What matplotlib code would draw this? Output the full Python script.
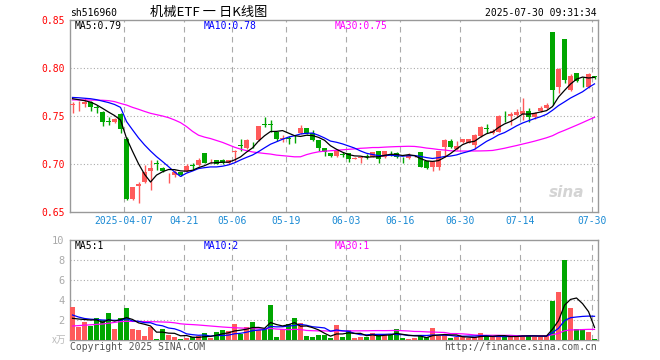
import matplotlib
matplotlib.use("Agg")
import matplotlib.pyplot as plt

# daily candles, 88 trading days (2025-03-24 .. 2025-07-30)
opens = [0.7610, 0.7620, 0.7624, 0.7641, 0.7590, 0.7545, 0.7445, 0.7441, 0.7520, 0.7258,
         0.6638, 0.6769, 0.6810, 0.6924, 0.7007, 0.6955, 0.6903, 0.6890, 0.6914, 0.6924,
         0.6986, 0.6986, 0.7118, 0.7028, 0.7042, 0.7042, 0.7007, 0.7125, 0.7195, 0.7163,
         0.7229, 0.7250, 0.7417, 0.7417, 0.7337, 0.7264, 0.7270, 0.7281, 0.7319, 0.7370,
         0.7326, 0.7250, 0.7163, 0.7118, 0.7087, 0.7100, 0.7111, 0.7056, 0.7066, 0.7079,
         0.7076, 0.7135, 0.7069, 0.7125, 0.7114, 0.7062, 0.7059, 0.7080, 0.7122, 0.7031,
         0.6972, 0.6972, 0.7174, 0.7243, 0.7160, 0.7226, 0.7222, 0.7198, 0.7292, 0.7372,
         0.7326, 0.7337, 0.7490, 0.7500, 0.7510, 0.7521, 0.7556, 0.7486, 0.7552, 0.7580,
         0.8375, 0.7806, 0.8302, 0.7771, 0.7948, 0.7886, 0.7806, 0.7913]
highs = [0.7650, 0.7660, 0.7690, 0.7659, 0.7610, 0.7555, 0.7486, 0.7483, 0.7528, 0.7286,
         0.6762, 0.6810, 0.6993, 0.7045, 0.7045, 0.6969, 0.6907, 0.6934, 0.6917, 0.7003,
         0.7010, 0.7062, 0.7118, 0.7048, 0.7045, 0.7056, 0.7045, 0.7146, 0.7257, 0.7257,
         0.7233, 0.7396, 0.7493, 0.7458, 0.7337, 0.7302, 0.7292, 0.7302, 0.7406, 0.7370,
         0.7354, 0.7250, 0.7163, 0.7118, 0.7146, 0.7128, 0.7118, 0.7069, 0.7076, 0.7100,
         0.7128, 0.7139, 0.7139, 0.7135, 0.7128, 0.7069, 0.7111, 0.7094, 0.7128, 0.7035,
         0.7035, 0.7135, 0.7257, 0.7257, 0.7243, 0.7264, 0.7264, 0.7309, 0.7399, 0.7413,
         0.7360, 0.7507, 0.7556, 0.7545, 0.7570, 0.7690, 0.7580, 0.7545, 0.7600, 0.7639,
         0.8375, 0.7997, 0.8302, 0.7937, 0.7948, 0.7903, 0.7948, 0.7920]
lows = [0.7530, 0.7555, 0.7597, 0.7555, 0.7528, 0.7397, 0.7403, 0.7431, 0.7321, 0.6630,
        0.6630, 0.6596, 0.6803, 0.6727, 0.6942, 0.6917, 0.6800, 0.6869, 0.6872, 0.6917,
        0.6948, 0.6980, 0.7007, 0.7007, 0.6997, 0.7000, 0.7000, 0.7024, 0.7139, 0.7153,
        0.7163, 0.7243, 0.7389, 0.7337, 0.7243, 0.7233, 0.7208, 0.7222, 0.7312, 0.7312,
        0.7243, 0.7139, 0.7083, 0.7076, 0.7076, 0.7069, 0.7024, 0.7049, 0.7014, 0.7055,
        0.7070, 0.7007, 0.7059, 0.7083, 0.7059, 0.7007, 0.7049, 0.7076, 0.6969, 0.6948,
        0.6930, 0.6938, 0.7070, 0.7167, 0.7146, 0.7222, 0.7215, 0.7156, 0.7280, 0.7320,
        0.7310, 0.7330, 0.7440, 0.7406, 0.7490, 0.7458, 0.7440, 0.7470, 0.7540, 0.7570,
        0.7615, 0.7743, 0.7847, 0.7760, 0.7850, 0.7806, 0.7795, 0.7890]
closes = [0.7624, 0.7630, 0.7648, 0.7597, 0.7583, 0.7441, 0.7438, 0.7466, 0.7362, 0.6638,
          0.6758, 0.6789, 0.6920, 0.6955, 0.7000, 0.6931, 0.6907, 0.6914, 0.6890, 0.6983,
          0.6980, 0.7045, 0.7014, 0.7031, 0.7000, 0.7007, 0.7042, 0.7132, 0.7188, 0.7250,
          0.7226, 0.7396, 0.7410, 0.7410, 0.7257, 0.7267, 0.7264, 0.7278, 0.7370, 0.7319,
          0.7250, 0.7170, 0.7128, 0.7083, 0.7135, 0.7097, 0.7049, 0.7059, 0.7069, 0.7076,
          0.7122, 0.7049, 0.7135, 0.7122, 0.7076, 0.7059, 0.7094, 0.7083, 0.6972, 0.6955,
          0.7031, 0.7135, 0.7250, 0.7174, 0.7191, 0.7257, 0.7260, 0.7302, 0.7389, 0.7368,
          0.7344, 0.7500, 0.7486, 0.7517, 0.7545, 0.7556, 0.7493, 0.7528, 0.7587, 0.7615,
          0.7771, 0.7986, 0.7875, 0.7917, 0.7868, 0.7882, 0.7937, 0.7910]
# volume in 万
volumes = [3.33, 1.33, 1.80, 1.43, 2.20, 2.03, 2.70, 1.10, 2.17, 3.20,
           1.10, 1.00, 0.40, 1.33, 0.10, 1.10, 0.50, 0.30, 0.10, 0.23,
           0.27, 0.40, 0.67, 0.23, 0.80, 1.00, 0.90, 1.60, 0.60, 1.30,
           1.80, 1.00, 1.13, 3.50, 0.30, 1.10, 1.60, 2.20, 1.70, 0.40,
           0.30, 0.47, 0.50, 0.25, 1.50, 0.30, 1.03, 0.20, 0.30, 0.33,
           0.70, 0.53, 0.50, 0.50, 1.10, 0.20, 0.10, 0.20, 0.40, 0.27,
           1.20, 0.40, 0.47, 0.20, 0.27, 0.30, 0.20, 0.27, 0.70, 0.40,
           0.27, 0.50, 0.30, 0.30, 0.40, 0.50, 0.50, 0.30, 0.30, 0.40,
           3.90, 4.80, 8.00, 3.20, 1.10, 1.10, 0.80, 0.10]

# averages for the first days, whose history is off the chart
ma5_head = [0.7680, 0.7670, 0.7660, 0.7645]
ma10_head = [0.7693, 0.7690, 0.7685, 0.7680, 0.7670, 0.7655, 0.7640, 0.7620, 0.7590]
ma30_head = [0.7668, 0.7668, 0.7667, 0.7666, 0.7665, 0.7664, 0.7660, 0.7650, 0.7631, 0.7614,
             0.7590, 0.7570, 0.7548, 0.7528, 0.7514, 0.7500, 0.7483, 0.7459, 0.7431, 0.7390,
             0.7340, 0.7300, 0.7280, 0.7265, 0.7245, 0.7225, 0.7200, 0.7175, 0.7155]
vol_ma5_head = [2.17, 2.10, 2.05, 2.00]
vol_ma10_head = [2.50, 2.30, 2.15, 2.08, 2.05, 2.00, 1.98, 1.97, 1.96]
vol_ma30_head = [1.40, 1.44, 1.48, 1.52, 1.56, 1.60, 1.68, 1.76, 1.84, 1.87,
                 1.86, 1.85, 1.84, 1.83, 1.82, 1.80, 1.78, 1.72, 1.62, 1.57,
                 1.54, 1.50, 1.45, 1.40, 1.35, 1.30, 1.26, 1.23, 1.20]

tick_idx = [9, 19, 27, 36, 46, 55, 65, 75, 87]
tick_labels = ["2025-04-07", "04-21", "05-06", "05-19", "06-03", "06-16", "06-30", "07-14", "07-30"]
price_ticks = [0.65, 0.70, 0.75, 0.80, 0.85]
vol_ticks = [2, 4, 6, 8, 10]

RED = "#ff5a5a"
GREEN = "#00a600"
GRID = "#aaaaaa"
FRAME = "#999999"
MONO = "DejaVu Sans Mono"
CJK = ["Noto Sans CJK SC", "DejaVu Sans"]
W, H = 660, 360


def moving_avg(values, n, head):
    out = list(head)
    for i in range(len(head), len(values)):
        out.append(sum(values[i - n + 1:i + 1]) / n)
    return out


def px_text(x, y, s, **kw):
    # place text in pixel coordinates (origin top-left)
    fig.text(x / W, 1 - y / H, s, **kw)


def style_axes(ax):
    for sp in ax.spines.values():
        sp.set_color(FRAME)
        sp.set_linewidth(1)
    ax.tick_params(length=0)
    ax.set_xlim(0, len(closes))
    for k in tick_idx:
        ax.axvline(k, color=GRID, lw=0.8, ls=(0, (5, 4)), zorder=0)


fig = plt.figure(figsize=(W / 100, H / 100), dpi=100)
ax = fig.add_axes([70 / W, 1 - 212 / H, 528 / W, 192 / H])
axv = fig.add_axes([70 / W, 1 - 340 / H, 528 / W, 100 / H])

n = len(closes)
xs = list(range(n))
colors = [RED if closes[i] >= opens[i] else GREEN for i in xs]
body_w = 5 / 6
mid = [x + 0.42 for x in xs]

# price panel
style_axes(ax)
for p in price_ticks[1:-1]:
    ax.axhline(p, color=GRID, lw=0.8, ls=(0, (1, 2)), zorder=0)
bottoms = [min(opens[i], closes[i]) for i in xs]
heights = [max(abs(closes[i] - opens[i]), 0.0008) for i in xs]
ax.vlines(mid, lows, highs, colors=colors, lw=1, zorder=2)
ax.bar(xs, heights, bottom=bottoms, width=body_w, align="edge", color=colors, lw=0, zorder=3)
ax.plot(mid, moving_avg(closes, 30, ma30_head), color="#ff00ff", lw=0.9, zorder=4)
ax.plot(mid, moving_avg(closes, 10, ma10_head), color="#0000ff", lw=0.9, zorder=4)
ax.plot(mid, moving_avg(closes, 5, ma5_head), color="black", lw=0.9, zorder=5)
ax.set_ylim(0.65, 0.85)
ax.set_yticks(price_ticks)
ax.set_yticklabels(["%.2f" % p for p in price_ticks], color="red", fontsize=7, family=MONO)
ax.set_xticks(tick_idx)
ax.set_xticklabels(tick_labels, color="#1a8ad4", fontsize=7, family=MONO)
ax.tick_params(axis="y", pad=4)
ax.tick_params(axis="x", pad=3)
ax.text(0.94, 0.1, "sina", transform=ax.transAxes, ha="center", va="center",
        fontsize=11, fontstyle="italic", fontweight="bold", color="#d4d4d4", zorder=1)

# volume panel
style_axes(axv)
for v in vol_ticks[:-1]:
    axv.axhline(v, color=GRID, lw=0.8, ls=(0, (1, 2)), zorder=0)
axv.bar(xs, volumes, width=body_w, align="edge", color=colors, lw=0, zorder=3)
axv.plot(mid, moving_avg(volumes, 30, vol_ma30_head), color="#ff00ff", lw=0.9, zorder=4)
axv.plot(mid, moving_avg(volumes, 10, vol_ma10_head), color="#0000ff", lw=0.9, zorder=4)
axv.plot(mid, moving_avg(volumes, 5, vol_ma5_head), color="black", lw=0.9, zorder=5)
axv.set_ylim(0, 10)
axv.set_yticks(vol_ticks)
axv.set_yticklabels([str(v) for v in vol_ticks], color="#aaaaaa", fontsize=7.5, family=MONO)
axv.set_xticks([])
axv.tick_params(axis="y", pad=4)

# header and labels
px_text(70, 13, "sh516960", fontsize=7, family=MONO, va="center")
px_text(209, 12, "机械ETF 一 日K线图", fontsize=9.5, family=CJK, ha="center", va="center")
px_text(597, 13, "2025-07-30 09:31:34", fontsize=7, family=MONO, ha="right", va="center")

px_text(75, 26, "MA5:0.79", fontsize=7, family=MONO, va="center", color="black")
px_text(204, 26, "MA10:0.78", fontsize=7, family=MONO, va="center", color="#0000ff")
px_text(335, 26, "MA30:0.75", fontsize=7, family=MONO, va="center", color="#ff00ff")
px_text(75, 246, "MA5:1", fontsize=7, family=MONO, va="center", color="black")
px_text(204, 246, "MA10:2", fontsize=7, family=MONO, va="center", color="#0000ff")
px_text(335, 246, "MA30:1", fontsize=7, family=MONO, va="center", color="#ff00ff")

px_text(66, 340, "x万", fontsize=7, family=CJK, ha="right", va="center", color="#bbbbbb")
px_text(70, 347, "Copyright 2025 SINA.COM", fontsize=7, family=MONO, va="center", color="#555555")
px_text(597, 347, "http://finance.sina.com.cn", fontsize=7, family=MONO, ha="right", va="center",
        color="#555555")

fig.savefig("out.png", dpi=100)
